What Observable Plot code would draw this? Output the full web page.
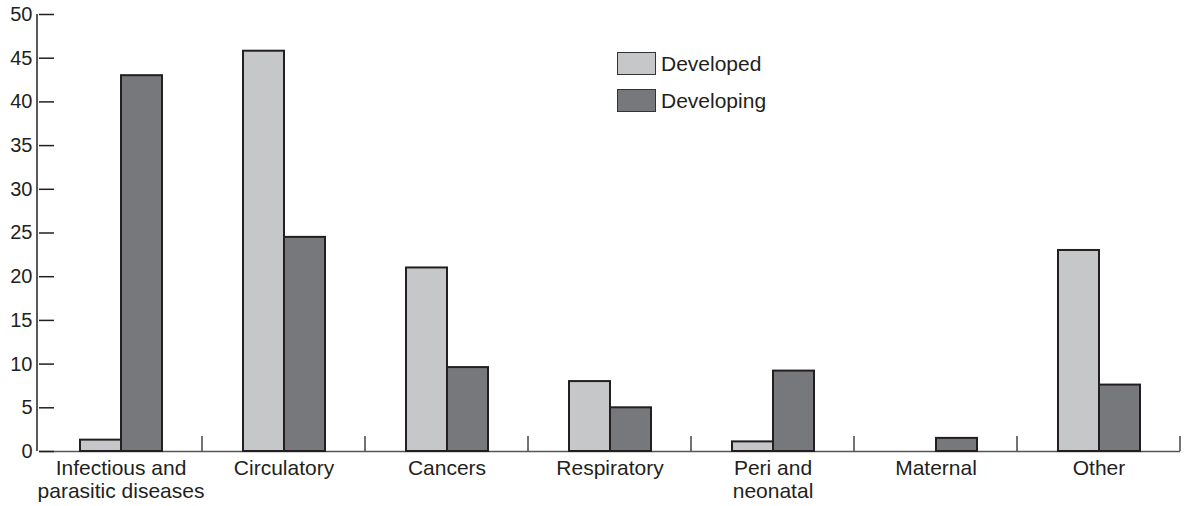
<!DOCTYPE html>
<html><head><meta charset="utf-8">
<script src="https://cdn.jsdelivr.net/npm/d3@7"></script>
<script src="https://cdn.jsdelivr.net/npm/@observablehq/plot@0.6"></script>
<style>
body{margin:0;background:#fff;font-family:"Liberation Sans",Arial,sans-serif;}
#wrap{position:relative;width:1184px;height:506px;}
#legend{position:absolute;left:617px;top:52px;font-size:21px;color:#231f20;}
.row{display:flex;align-items:center;height:23px;margin-bottom:14px;}
.sw{box-sizing:border-box;width:39px;height:23px;border:1.5px solid #333;margin-right:5px;}
</style></head>
<body><div id="wrap"><div id="legend"></div></div>
<script>
const categories = ["Infectious and\nparasitic diseases","Circulatory","Cancers","Respiratory","Peri and\nneonatal","Maternal","Other"];
const series = ["Developed","Developing"];
const developed = [1.3, 45.8, 21.0, 8.0, 1.1, 0, 23.0];
const developing = [43.0, 24.5, 9.6, 5.0, 9.2, 1.5, 7.6];
const yTicks = [0,5,10,15,20,25,30,35,40,45,50];
const colors = ["#c6c7c9","#77787b"];

const data = [];
categories.forEach((c,i) => {
  data.push({category:c, series:series[0], value:developed[i]});
  data.push({category:c, series:series[1], value:developing[i]});
});
const shown = data.filter(d => d.value > 0);

const chart = Plot.plot({
  width:1184, height:506, marginLeft:37, marginRight:2, marginTop:14, marginBottom:55,
  style:{fontFamily:'"Liberation Sans",Arial,sans-serif', fontSize:"20px", color:"#231f20", background:"white"},
  fx:{domain:categories, padding:0, label:null},
  x:{domain:series, paddingInner:0, paddingOuter:0.95, axis:null},
  y:{domain:[0,50], label:null},
  color:{domain:series, range:colors},
  marks:[
    Plot.ruleY([0], {stroke:"#555", strokeWidth:1.5}),
    Plot.axisY({ticks:yTicks, tickSize:-15, tickPadding:22, fontSize:20, stroke:"#231f20", strokeWidth:1.5, strokeOpacity:1, label:null}),
    Plot.axisFx({anchor:"bottom", tickSize:0, tickPadding:7, fontSize:21, lineHeight:1.1, label:null}),
    Plot.barY(shown, {fx:"category", x:"series", y:"value", fill:"series", stroke:"#231f20", strokeWidth:2})
  ]
});
document.getElementById("wrap").appendChild(chart);

const fx = chart.scale("fx"), y = chart.scale("y");
if (fx && y) {
  const svg = d3.select(chart);
  const g = svg.append("g").attr("stroke-width",1.5);
  g.append("line").attr("stroke","#231f20")
    .attr("x1", fx.range[0]).attr("x2", fx.range[0])
    .attr("y1", y.apply(0)).attr("y2", y.apply(50));
  categories.forEach(c => {
    const xr = fx.apply(c) + fx.bandwidth;
    g.append("line").attr("stroke","#444")
      .attr("x1", xr).attr("x2", xr)
      .attr("y1", y.apply(0)).attr("y2", y.apply(0) - 15);
  });
}

const legend = d3.select("#legend");
series.forEach((s,i) => {
  const r = legend.append("div").attr("class","row");
  r.append("div").attr("class","sw").style("background", colors[i]);
  r.append("span").text(s);
});
</script>
</body></html>
